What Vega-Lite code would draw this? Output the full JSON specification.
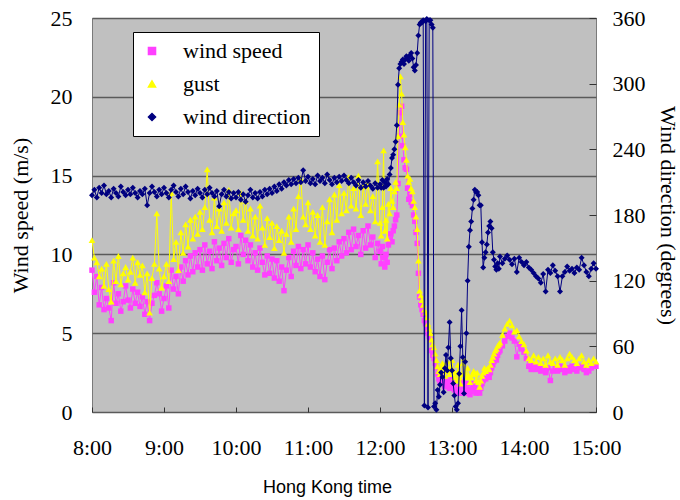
{
"$schema": "https://vega.github.io/schema/vega-lite/v6.json",
"width": 504, "height": 394,
"autosize": {"type": "none"},
"padding": {"left": 92, "top": 18, "right": 84, "bottom": 88},
"background": "white",
"config": {
 "view": {"fill": "#c0c0c0", "stroke": "#7a7a7a", "strokeWidth": 1},
 "axis": {"labelColor": "#000000", "titleColor": "#000000", "labelFont": "Liberation Serif", "titleFont": "Liberation Serif", "labelFontSize": 22, "titleFontSize": 22, "titleFontWeight": "normal"}
},
"data": {"values": [
{"m":480,"s":9.0,"g":10.9,"d":198},{"m":482,"s":7.6,"g":9.8,"d":203},{"m":484,"s":8.6,"g":9.5,"d":196},{"m":486,"s":6.8,"g":8.6,"d":205},{"m":488,"s":7.9,"g":9.1,"d":200},{"m":490,"s":6.5,"g":8.0,"d":207},{"m":492,"s":7.2,"g":9.4,"d":199},{"m":494,"s":6.6,"g":7.8,"d":202},{"m":496,"s":5.8,"g":7.0,"d":196},{"m":498,"s":8.2,"g":9.6,"d":204},
{"m":500,"s":6.9,"g":8.3,"d":200},{"m":502,"s":7.5,"g":9.9,"d":197},{"m":504,"s":6.4,"g":8.1,"d":206},{"m":506,"s":7.0,"g":8.8,"d":201},{"m":508,"s":8.0,"g":9.2,"d":198},{"m":510,"s":7.1,"g":8.4,"d":203},{"m":512,"s":6.6,"g":8.9,"d":199},{"m":514,"s":7.8,"g":9.8,"d":205},{"m":516,"s":6.9,"g":8.2,"d":200},{"m":518,"s":7.6,"g":9.5,"d":196},
{"m":520,"s":6.7,"g":8.7,"d":202},{"m":522,"s":7.3,"g":9.3,"d":199},{"m":524,"s":6.2,"g":7.6,"d":204},{"m":526,"s":7.0,"g":8.8,"d":189},{"m":528,"s":5.8,"g":6.3,"d":200},{"m":530,"s":6.9,"g":8.5,"d":206},{"m":532,"s":7.4,"g":9.4,"d":201},{"m":534,"s":8.2,"g":12.6,"d":197},{"m":536,"s":7.5,"g":9.1,"d":203},{"m":538,"s":6.4,"g":7.9,"d":199},
{"m":540,"s":7.2,"g":8.6,"d":205},{"m":542,"s":8.0,"g":9.4,"d":200},{"m":544,"s":6.6,"g":8.3,"d":196},{"m":546,"s":9.0,"g":13.9,"d":203},{"m":548,"s":7.8,"g":9.7,"d":207},{"m":550,"s":8.6,"g":10.8,"d":201},{"m":552,"s":7.5,"g":9.0,"d":197},{"m":554,"s":9.2,"g":11.4,"d":204},{"m":556,"s":8.3,"g":10.1,"d":199},{"m":558,"s":9.6,"g":11.9,"d":206},
{"m":560,"s":8.7,"g":10.5,"d":201},{"m":562,"s":9.9,"g":12.2,"d":195},{"m":564,"s":8.9,"g":11.0,"d":202},{"m":566,"s":10.1,"g":12.4,"d":198},{"m":568,"s":9.2,"g":11.3,"d":204},{"m":570,"s":10.3,"g":12.7,"d":200},{"m":572,"s":9.0,"g":11.6,"d":196},{"m":574,"s":10.6,"g":13.0,"d":203},{"m":576,"s":9.4,"g":15.4,"d":199},{"m":578,"s":10.2,"g":12.2,"d":205},
{"m":580,"s":9.1,"g":11.4,"d":200},{"m":582,"s":10.8,"g":13.6,"d":197},{"m":584,"s":9.6,"g":11.8,"d":202},{"m":586,"s":10.4,"g":12.9,"d":188},{"m":588,"s":9.3,"g":11.5,"d":199},{"m":590,"s":10.7,"g":13.3,"d":203},{"m":592,"s":9.8,"g":12.0,"d":197},{"m":594,"s":11.0,"g":14.1,"d":201},{"m":596,"s":9.5,"g":11.7,"d":195},{"m":598,"s":10.3,"g":12.6,"d":200},
{"m":600,"s":10.5,"g":12.8,"d":196},{"m":602,"s":9.4,"g":11.6,"d":201},{"m":604,"s":11.2,"g":13.9,"d":194},{"m":606,"s":10.0,"g":12.2,"d":199},{"m":608,"s":10.9,"g":13.4,"d":192},{"m":610,"s":9.6,"g":11.5,"d":198},{"m":612,"s":10.6,"g":12.9,"d":203},{"m":614,"s":9.2,"g":11.2,"d":196},{"m":616,"s":10.1,"g":12.4,"d":200},{"m":618,"s":9.0,"g":11.0,"d":195},
{"m":620,"s":10.4,"g":13.1,"d":201},{"m":622,"s":9.5,"g":11.7,"d":197},{"m":624,"s":8.7,"g":10.6,"d":203},{"m":626,"s":9.9,"g":12.3,"d":199},{"m":628,"s":8.8,"g":11.1,"d":204},{"m":630,"s":9.7,"g":12.0,"d":200},{"m":632,"s":8.5,"g":10.4,"d":206},{"m":634,"s":9.6,"g":11.8,"d":202},{"m":636,"s":8.3,"g":10.9,"d":208},{"m":638,"s":9.2,"g":11.5,"d":204},
{"m":640,"s":7.7,"g":10.1,"d":210},{"m":642,"s":9.0,"g":11.3,"d":207},{"m":644,"s":9.8,"g":12.4,"d":212},{"m":646,"s":8.6,"g":10.8,"d":208},{"m":648,"s":10.2,"g":12.9,"d":213},{"m":650,"s":9.3,"g":11.6,"d":209},{"m":652,"s":10.5,"g":13.7,"d":214},{"m":654,"s":9.1,"g":14.8,"d":210},{"m":656,"s":10.3,"g":12.4,"d":221},{"m":658,"s":9.4,"g":11.9,"d":211},
{"m":660,"s":10.6,"g":13.3,"d":215},{"m":662,"s":9.2,"g":11.6,"d":209},{"m":664,"s":10.1,"g":12.7,"d":213},{"m":666,"s":8.9,"g":11.2,"d":208},{"m":668,"s":9.7,"g":12.5,"d":216},{"m":670,"s":8.6,"g":10.8,"d":211},{"m":672,"s":9.9,"g":13.0,"d":214},{"m":674,"s":8.4,"g":10.6,"d":209},{"m":676,"s":9.5,"g":12.1,"d":217},{"m":678,"s":10.3,"g":13.5,"d":212},
{"m":680,"s":9.1,"g":11.4,"d":208},{"m":682,"s":10.4,"g":13.8,"d":214},{"m":684,"s":9.6,"g":12.2,"d":210},{"m":686,"s":10.8,"g":14.4,"d":215},{"m":688,"s":9.9,"g":12.6,"d":211},{"m":690,"s":11.0,"g":13.9,"d":216},{"m":692,"s":10.1,"g":12.8,"d":212},{"m":694,"s":11.4,"g":14.9,"d":209},{"m":696,"s":10.3,"g":13.1,"d":214},{"m":698,"s":11.6,"g":14.2,"d":210},
{"m":700,"s":10.5,"g":12.9,"d":207},{"m":702,"s":11.2,"g":15.0,"d":212},{"m":704,"s":10.0,"g":12.5,"d":205},{"m":706,"s":11.5,"g":14.3,"d":210},{"m":708,"s":10.4,"g":13.2,"d":206},{"m":710,"s":11.8,"g":14.6,"d":211},{"m":712,"s":10.6,"g":12.8,"d":207},{"m":714,"s":11.1,"g":13.7,"d":204},{"m":716,"s":9.8,"g":12.1,"d":209},{"m":718,"s":10.7,"g":15.9,"d":205},
{"m":720,"s":10.2,"g":12.0,"d":208},{"m":721,"s":9.4,"g":11.2,"d":205},{"m":722,"s":10.5,"g":13.0,"d":212},{"m":723,"s":9.8,"g":16.6,"d":205},{"m":724,"s":9.2,"g":11.5,"d":210},{"m":725,"s":10.0,"g":12.2,"d":206},{"m":726,"s":9.5,"g":11.0,"d":213},{"m":727,"s":10.6,"g":13.2,"d":208},{"m":728,"s":10.9,"g":12.6,"d":217},{"m":729,"s":11.3,"g":14.2,"d":223},
{"m":730,"s":10.8,"g":13.4,"d":232},{"m":731,"s":11.5,"g":13.0,"d":235},{"m":732,"s":11.8,"g":14.0,"d":240},{"m":733,"s":12.2,"g":14.6,"d":247},{"m":734,"s":12.5,"g":14.2,"d":262},{"m":735,"s":14.5,"g":17.5,"d":299},{"m":736,"s":17.5,"g":19.5,"d":314},{"m":737,"s":19.0,"g":21.3,"d":318},{"m":738,"s":19.4,"g":20.2,"d":320},{"m":739,"s":16.9,"g":18.4,"d":322},
{"m":740,"s":16.0,"g":17.6,"d":318},{"m":741,"s":15.5,"g":16.8,"d":322},{"m":742,"s":15.4,"g":16.0,"d":325},{"m":743,"s":14.2,"g":15.0,"d":324},{"m":744,"s":13.5,"g":14.6,"d":321},{"m":745,"s":13.8,"g":14.8,"d":326},{"m":746,"s":13.3,"g":14.2,"d":328},{"m":747,"s":13.1,"g":14.0,"d":323},{"m":748,"s":12.5,"g":13.4,"d":315},{"m":749,"s":12.1,"g":13.0,"d":312},
{"m":750,"s":11.4,"g":12.4,"d":317},{"m":751,"s":10.7,"g":11.6,"d":328},{"m":752,"s":8.8,"g":9.6,"d":344},{"m":753,"s":7.3,"g":7.7,"d":354},{"m":754,"s":6.8,"g":7.4,"d":356},{"m":755,"s":6.5,"g":7.1,"d":356},{"m":756,"s":6.2,"g":6.8,"d":358},{"m":757,"s":5.8,"g":6.5,"d":6},{"m":758,"s":5.6,"g":6.3,"d":357},{"m":759,"s":5.3,"g":6.0,"d":359},
{"m":760,"s":5.0,"g":5.6,"d":4},{"m":761,"s":4.8,"g":5.3,"d":358},{"m":762,"s":4.6,"g":5.0,"d":358},{"m":763,"s":3.9,"g":4.6,"d":354},{"m":764,"s":3.6,"g":4.3,"d":351},{"m":765,"s":3.4,"g":4.1,"d":5},{"m":766,"s":3.1,"g":3.7,"d":8},{"m":767,"s":2.8,"g":3.3,"d":2},{"m":768,"s":2.4,"g":2.9,"d":20},{"m":769,"s":2.1,"g":2.6,"d":14},
{"m":770,"s":1.9,"g":2.4,"d":25},{"m":771,"s":1.8,"g":2.8,"d":36},{"m":772,"s":2.0,"g":3.1,"d":32},{"m":773,"s":2.2,"g":3.0,"d":18},{"m":774,"s":1.6,"g":2.3,"d":40},{"m":775,"s":1.7,"g":2.6,"d":52},{"m":776,"s":2.0,"g":3.2,"d":38},{"m":777,"s":1.9,"g":2.7,"d":59},{"m":778,"s":1.5,"g":2.4,"d":82},{"m":779,"s":1.8,"g":2.9,"d":49},
{"m":780,"s":2.1,"g":3.3,"d":38},{"m":781,"s":1.7,"g":2.6,"d":26},{"m":782,"s":1.4,"g":2.2,"d":15},{"m":783,"s":1.6,"g":2.5,"d":5},{"m":784,"s":1.3,"g":2.0,"d":2},{"m":785,"s":1.5,"g":3.0,"d":8},{"m":786,"s":1.2,"g":2.2,"d":35},{"m":787,"s":1.2,"g":1.8,"d":60},{"m":788,"s":1.6,"g":2.4,"d":93},{"m":789,"s":1.9,"g":3.1,"d":50},
{"m":790,"s":1.6,"g":3.4,"d":17},{"m":791,"s":1.2,"g":2.5,"d":46},{"m":792,"s":1.4,"g":2.2,"d":72},{"m":793,"s":1.8,"g":2.8,"d":120},{"m":794,"s":1.4,"g":2.3,"d":151},{"m":795,"s":1.1,"g":1.9,"d":166},{"m":796,"s":1.3,"g":2.2,"d":174},{"m":797,"s":1.5,"g":2.4,"d":186},{"m":798,"s":1.8,"g":2.6,"d":194},{"m":799,"s":1.6,"g":2.5,"d":203},
{"m":800,"s":1.2,"g":2.0,"d":201},{"m":801,"s":1.4,"g":2.5,"d":201},{"m":802,"s":1.3,"g":1.9,"d":198},{"m":803,"s":1.2,"g":1.6,"d":189},{"m":804,"s":1.5,"g":2.0,"d":189},{"m":805,"s":1.8,"g":2.3,"d":155},{"m":806,"s":2.0,"g":2.5,"d":132},{"m":807,"s":2.2,"g":2.8,"d":141},{"m":808,"s":2.1,"g":2.6,"d":146},{"m":809,"s":2.3,"g":2.7,"d":153},
{"m":810,"s":2.4,"g":2.8,"d":164},{"m":811,"s":2.2,"g":2.7,"d":170},{"m":812,"s":2.5,"g":3.0,"d":174},{"m":813,"s":2.8,"g":3.3,"d":168},{"m":814,"s":3.0,"g":3.5,"d":146},{"m":815,"s":3.2,"g":3.7,"d":139},{"m":816,"s":3.4,"g":3.9,"d":133},{"m":817,"s":3.3,"g":4.0,"d":130},{"m":818,"s":3.6,"g":4.2,"d":136},{"m":819,"s":3.8,"g":4.3,"d":131},
{"m":820,"s":3.9,"g":4.4,"d":142},{"m":822,"s":4.2,"g":4.9,"d":136},{"m":824,"s":4.5,"g":5.3,"d":140},{"m":826,"s":4.8,"g":5.6,"d":143},{"m":828,"s":5.0,"g":5.8,"d":139},{"m":830,"s":4.7,"g":5.5,"d":135},{"m":832,"s":4.5,"g":5.1,"d":140},{"m":834,"s":3.5,"g":5.2,"d":128},{"m":836,"s":4.3,"g":4.8,"d":141},{"m":838,"s":4.0,"g":4.5,"d":137},
{"m":840,"s":3.8,"g":4.3,"d":134},{"m":842,"s":3.4,"g":3.9,"d":137},{"m":844,"s":2.9,"g":3.4,"d":132},{"m":846,"s":2.7,"g":3.3,"d":130},{"m":848,"s":3.0,"g":3.6,"d":127},{"m":850,"s":2.7,"g":3.2,"d":124},{"m":852,"s":2.9,"g":3.5,"d":122},{"m":854,"s":2.6,"g":3.1,"d":118},{"m":856,"s":2.8,"g":3.4,"d":126},{"m":858,"s":2.5,"g":3.0,"d":110},
{"m":860,"s":2.8,"g":3.6,"d":130},{"m":862,"s":2.0,"g":3.2,"d":127},{"m":864,"s":2.6,"g":3.1,"d":134},{"m":866,"s":2.8,"g":3.4,"d":129},{"m":868,"s":2.6,"g":3.0,"d":124},{"m":870,"s":2.9,"g":3.5,"d":110},{"m":872,"s":2.7,"g":3.3,"d":124},{"m":874,"s":2.5,"g":3.0,"d":128},{"m":876,"s":2.8,"g":3.4,"d":133},{"m":878,"s":2.6,"g":3.7,"d":129},
{"m":880,"s":2.9,"g":3.5,"d":131},{"m":882,"s":2.7,"g":3.3,"d":127},{"m":884,"s":2.6,"g":3.1,"d":132},{"m":886,"s":2.8,"g":3.4,"d":130},{"m":888,"s":2.9,"g":3.6,"d":141},{"m":890,"s":2.7,"g":3.2,"d":134},{"m":892,"s":2.5,"g":3.0,"d":128},{"m":894,"s":2.6,"g":3.3,"d":124},{"m":896,"s":2.8,"g":3.1,"d":131},{"m":898,"s":2.9,"g":3.4,"d":136},
{"m":900,"s":2.9,"g":3.2,"d":131}
]},
"encoding": {
 "x": {"field": "m", "type": "quantitative",
  "scale": {"domain": [480, 900], "nice": false, "zero": false},
  "axis": {"title": "Hong Kong time", "values": [480, 540, 600, 660, 720, 780, 840, 900], "labelExpr": "floor(datum.value / 60) + ':00'", "grid": false, "domain": false, "ticks": true, "tickSize": -5, "tickColor": "#333333", "labelPadding": 30, "labelFlush": false, "labelOverlap": false, "titleFont": "Liberation Sans", "titleFontSize": 18, "titleX": 235, "titleY": 75, "titleBaseline": "middle", "titleAlign": "center"}}
},
"layer": [
 {"layer": [
  {"encoding": {
    "y": {"field": "s", "type": "quantitative", "scale": {"domain": [0, 25], "nice": false},
      "axis": {"title": "Wind speed (m/s)", "values": [0, 5, 10, 15, 20, 25], "grid": true, "gridColor": "#5a5a5a", "gridWidth": 1.3, "ticks": false, "domain": false, "labelPadding": 20, "titlePadding": 18}},
    "color": {"datum": "wind speed", "type": "nominal",
      "scale": {"domain": ["wind speed", "gust", "wind direction"], "range": ["#ff40ff", "#ffff00", "#000080"]},
      "legend": {"title": null, "orient": "none", "legendX": 41, "legendY": 14, "fillColor": "white", "strokeColor": "black", "padding": 8, "rowPadding": 11, "labelFont": "Liberation Serif", "labelFontSize": 22, "labelColor": "black", "symbolSize": 50, "labelOffset": 20}}
   },
   "layer": [
    {"mark": {"type": "line", "strokeWidth": 1}, "encoding": {}},
    {"mark": {"type": "point", "filled": true, "size": 30, "opacity": 1}, "encoding": {"shape": {"datum": "wind speed", "scale": {"domain": ["wind speed", "gust", "wind direction"], "range": ["square", "triangle-up", "diamond"]}, "legend": null}}}
   ]},
  {"encoding": {
    "y": {"field": "g", "type": "quantitative", "scale": {"domain": [0, 25], "nice": false},
      "axis": {"title": "Wind speed (m/s)", "values": [0, 5, 10, 15, 20, 25], "grid": true, "gridColor": "#5a5a5a", "gridWidth": 1.3, "ticks": false, "domain": false, "labelPadding": 20, "titlePadding": 18}},
    "color": {"datum": "gust", "type": "nominal"}
   },
   "layer": [
    {"mark": {"type": "line", "strokeWidth": 1}, "encoding": {}},
    {"mark": {"type": "point", "filled": true, "size": 45, "opacity": 1}, "encoding": {"shape": {"datum": "gust", "legend": null}}}
   ]}
 ]},
 {"encoding": {
   "y": {"field": "d", "type": "quantitative", "scale": {"domain": [0, 360], "nice": false},
     "axis": {"title": "Wind direction (degrees)", "orient": "right", "values": [0, 60, 120, 180, 240, 300, 360], "grid": false, "ticks": true, "tickSize": -7, "tickColor": "#333333", "domain": false, "labelPadding": 23, "titlePadding": 10}},
   "color": {"datum": "wind direction", "type": "nominal"}
  },
  "layer": [
   {"mark": {"type": "line", "strokeWidth": 1}, "encoding": {}},
   {"mark": {"type": "point", "filled": true, "size": 36, "opacity": 1}, "encoding": {"shape": {"datum": "wind direction", "legend": null}}}
  ]}
],
"resolve": {"scale": {"y": "independent"}}
}
